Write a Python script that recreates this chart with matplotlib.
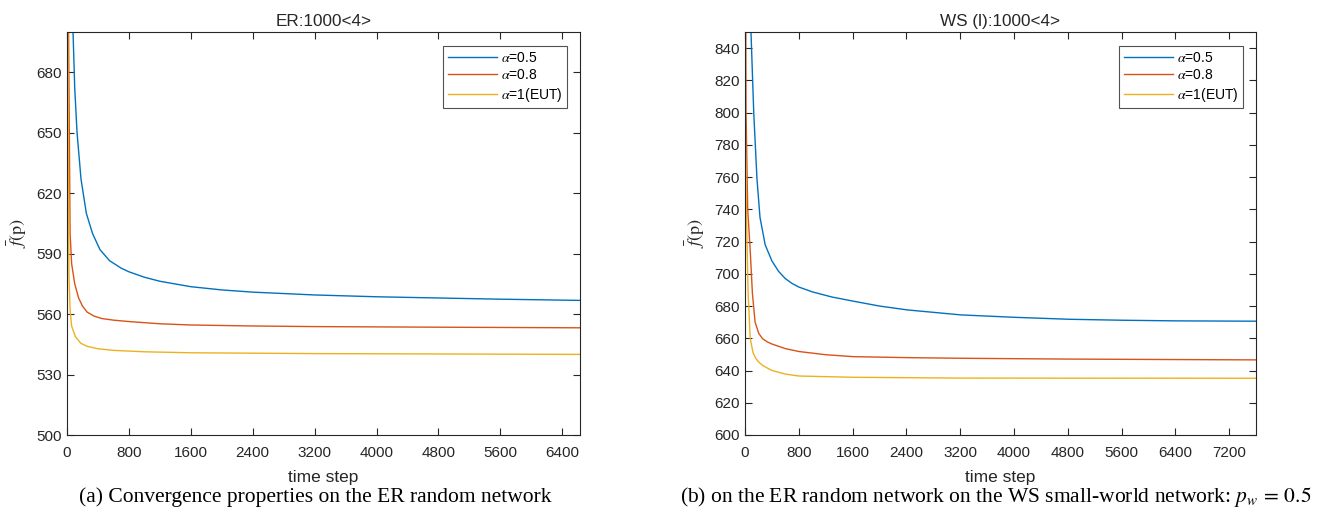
import matplotlib
matplotlib.use("Agg")
import matplotlib.pyplot as plt

# ---------------- data ----------------
t_er_a05 = [0, 1, 40, 78, 100, 130, 181, 250, 330, 426, 550, 700, 800, 1000, 1200, 1600, 2000, 2400, 3200, 4000, 4800, 5600, 6630]
er_a05 = [500, 1000, 800, 700, 672, 650, 627, 610, 600, 592, 586.5, 582.8, 581, 578.3, 576.3, 573.6, 572.0, 570.9, 569.5, 568.6, 568.0, 567.4, 566.8]
t_er_a08 = [0, 1, 20, 40, 60, 100, 150, 200, 260, 350, 450, 600, 800, 1200, 1600, 2400, 3200, 4800, 6630]
er_a08 = [500, 1000, 700, 600, 585, 575, 568, 564, 561, 559, 557.8, 557, 556.3, 555.2, 554.6, 554.1, 553.8, 553.5, 553.2]
t_er_a10 = [0, 1, 10, 25, 40, 60, 110, 180, 260, 400, 600, 1000, 1600, 3200, 6630]
er_a10 = [500, 900, 700, 580, 562, 554, 548.7, 545.5, 544, 542.8, 542, 541.3, 540.8, 540.4, 540.0]

t_ws_a05 = [0, 1, 50, 89, 130, 178, 223, 300, 400, 500, 600, 700, 800, 1000, 1293, 1613, 2000, 2413, 3213, 4013, 4813, 5600, 6413, 7600]
ws_a05 = [600, 1100, 1000, 850, 800, 759, 735, 718, 708, 701.5, 697, 694, 691.8, 688.8, 685.6, 683, 680, 677.6, 674.5, 673, 671.8, 671.2, 670.8, 670.6]
t_ws_a08 = [0, 1, 15, 40, 77, 110, 150, 205, 260, 330, 397, 600, 800, 1200, 1613, 2400, 3213, 4800, 6400, 7600]
ws_a08 = [600, 1000, 801, 740, 715, 688, 670, 663, 659.8, 657.8, 656.5, 653.6, 651.8, 649.8, 648.6, 648, 647.6, 647.1, 646.8, 646.6]
t_ws_a10 = [0, 1, 20, 45, 77, 120, 160, 205, 269, 400, 600, 800, 1613, 3213, 7600]
ws_a10 = [600, 801, 740, 690, 660, 651, 647.5, 645.2, 643, 640, 637.8, 636.6, 635.8, 635.3, 635.2]

labels = [r"$\alpha$=0.5", r"$\alpha$=0.8", r"$\alpha$=1(EUT)"]
colors = ["#0072BD", "#D95319", "#EDB120"]

er_yticks = [500, 530, 560, 590, 620, 650, 680]
ws_yticks = list(range(600, 841, 20))
er_xticks = list(range(0, 6401, 800))
ws_xticks = list(range(0, 7201, 800))

# ---------------- figure ----------------
plt.rcParams['font.family'] = ['Liberation Sans', 'DejaVu Sans']
plt.rcParams['mathtext.fontset'] = 'stix'
W, H = 1336, 511
fig = plt.figure(figsize=(W / 100, H / 100), dpi=100)

def make_ax(x0, x1, y0, y1):
    return fig.add_axes([x0 / W, 1 - y1 / H, (x1 - x0) / W, (y1 - y0) / H])

axL = make_ax(67, 580, 32, 435)
axR = make_ax(745, 1256, 32, 435)

def style(ax, title, xlim, ylim, xticks, yticks):
    ax.set_xlim(*xlim)
    ax.set_ylim(*ylim)
    ax.set_xticks(xticks)
    ax.set_yticks(yticks)
    ax.tick_params(direction='in', top=True, right=True, length=5, width=0.8,
                   labelsize=11, colors='#262626')
    ax.tick_params(axis='x', pad=8)
    ax.tick_params(axis='y', pad=4)
    for s in ax.spines.values():
        s.set_color('#262626')
        s.set_linewidth(0.8)
    ax.set_title(title, fontsize=12.3, color='#262626', pad=4)
    ax.set_xlabel("time step", fontsize=12.5, color='#262626', labelpad=7)
    ax.set_ylabel(r"$\bar{f}$(p)", fontsize=13, color='#262626', labelpad=5,
                  family=['STIXGeneral'])
    leg = ax.legend(loc='upper right', fontsize=10, frameon=True, fancybox=False,
                    edgecolor='#262626', handlelength=3.5, handletextpad=0.3,
                    borderpad=0.35, labelspacing=0.25, borderaxespad=0,
                    bbox_to_anchor=(0.975, 0.966))
    leg.get_frame().set_linewidth(0.8)

for t, s, c, l in zip([t_er_a05, t_er_a08, t_er_a10], [er_a05, er_a08, er_a10], colors, labels):
    axL.plot(t, s, color=c, lw=1.0, label=l)
for t, s, c, l in zip([t_ws_a05, t_ws_a08, t_ws_a10], [ws_a05, ws_a08, ws_a10], colors, labels):
    axR.plot(t, s, color=c, lw=1.0, label=l)

style(axL, "ER:1000<4>", (0, 6630), (500, 700), er_xticks, er_yticks)
style(axR, "WS (l):1000<4>", (0, 7600), (600, 850), ws_xticks, ws_yticks)

fig.text(315 / W, 1 - 497 / H, "(a) Convergence properties on the ER random network",
         ha='center', va='center', fontsize=15.5, family=['Liberation Serif'])
fig.text(996 / W, 1 - 497 / H,
         r"(b) on the ER random network on the WS small-world network: $p_w\,=\,0.5$",
         ha='center', va='center', fontsize=15.5, family=['Liberation Serif'])

fig.savefig("out.png", dpi=100)
